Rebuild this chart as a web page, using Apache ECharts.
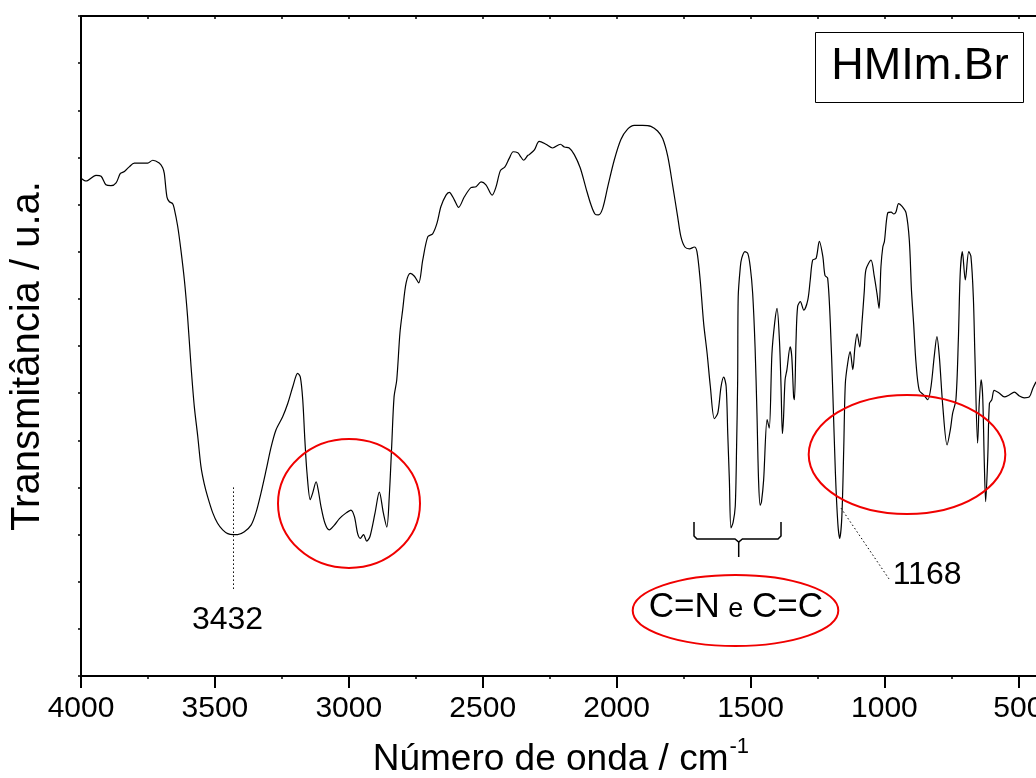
<!DOCTYPE html>
<html>
<head>
<meta charset="utf-8">
<script src="https://cdn.jsdelivr.net/npm/echarts@6/dist/echarts.min.js"></script>
<style>
  html, body { margin: 0; padding: 0; background: #fff; }
  #chart { width: 1036px; height: 778px; }
</style>
</head>
<body>
<div id="chart"></div>
<script>
// FTIR spectrum of HMIm.Br — wavenumber (cm-1) vs transmittance (a.u.)
const wavenumber = [
  4000,3981,3944,3925,3907,3888,3869,3853,3838,3820,
  3801,3776,3751,3732,3708,3695,3689,3679,3670,3658,
  3652,3639,3627,3614,3602,3589,3577,3564,3552,3540,
  3527,3508,3490,3471,3452,3432,3415,3390,3365,3347,
  3328,3309,3290,3272,3247,3228,3209,3191,3181,3172,
  3164,3156,3144,3135,3122,3114,3104,3089,3073,3054,
  3035,3010,2992,2979,2967,2957,2945,2933,2921,2902,
  2886,2871,2858,2849,2840,2831,2821,2809,2799,2786,
  2770,2755,2739,2724,2705,2687,2671,2656,2637,2625,
  2606,2590,2569,2544,2525,2506,2488,2465,2450,2434,
  2417,2401,2386,2369,2361,2347,2332,2326,2307,2289,
  2264,2239,2210,2195,2177,2158,2136,2114,2096,2081,
  2068,2052,2033,2009,1984,1959,1934,1903,1872,1847,
  1828,1809,1790,1772,1760,1745,1728,1710,1700,1688,
  1675,1662,1650,1635,1622,1610,1600,1591,1585,1579,
  1573,1565,1557,1552,1548,1546,1538,1533,1521,1510,
  1501,1492,1483,1476,1470,1464,1459,1451,1438,1430,
  1420,1410,1401,1392,1386,1381,1377,1371,1364,1352,
  1346,1339,1336,1330,1324,1314,1301,1286,1277,1268,
  1255,1243,1230,1222,1212,1202,1193,1183,1174,1167,
  1159,1152,1146,1137,1128,1118,1110,1102,1092,1084,
  1075,1069,1050,1038,1028,1020,1013,1006,1000,988,
  975,965,957,947,934,919,907,899,891,882,
  870,853,838,826,814,804,795,782,766,754,
  745,733,724,717,709,698,685,677,668,662,
  652,646,639,633,627,622,614,608,599,590,
  571,552,534,515,496,478,459,446,434
];
const transmittance = [
  52.8,52.5,53.1,53.0,52.1,52.0,52.3,53.3,53.5,54.0,
  54.4,54.4,54.4,54.7,54.4,53.9,53.3,50.8,50.3,50.1,
  49.6,47.7,45.2,42.0,38.1,32.8,28.6,25.4,22.2,20.4,
  19.0,17.3,16.2,15.5,15.1,15.0,15.0,15.3,16.0,17.3,
  19.4,21.8,24.3,26.1,27.5,28.9,30.7,32.1,31.7,29.3,
  25.0,21.5,18.7,19.4,20.6,19.7,18.0,16.2,15.5,16.0,
  16.7,17.3,17.6,16.9,15.1,14.6,15.0,14.3,14.8,17.3,
  19.5,17.3,15.8,19.0,24.3,29.6,31.4,36.4,38.8,41.7,
  42.7,42.4,41.7,44.1,46.6,46.9,48.0,49.8,51.0,51.3,
  50.5,49.7,50.8,51.8,51.9,52.4,52.1,51.0,51.9,53.6,
  54.0,54.9,55.6,55.5,55.2,54.7,55.2,55.3,55.8,56.7,
  56.4,56.0,56.4,56.1,56.0,55.3,53.9,51.7,50.0,49.0,
  48.9,49.6,51.9,54.7,56.9,58.0,58.4,58.4,58.3,57.8,
  57.0,55.1,51.9,48.7,46.6,45.5,45.3,45.5,45.0,42.0,
  37.4,34.2,30.7,27.3,27.9,30.7,31.7,30.7,25.7,20.8,
  15.7,16.3,18.0,24.3,31.4,40.2,43.4,44.3,45.0,44.8,
  43.4,40.6,34.9,27.9,20.8,18.1,18.5,20.8,27.2,26.3,
  34.2,37.4,39.0,35.6,30.7,25.7,27.2,31.4,32.5,34.9,
  33.9,29.6,29.3,35.6,39.2,39.7,38.8,39.9,42.0,44.1,
  44.3,46.1,44.5,42.5,42.2,37.4,30.3,21.5,16.2,14.6,
  16.9,24.0,31.0,33.2,34.4,32.5,34.9,36.3,34.9,37.4,
  40.9,43.1,44.1,42.4,40.6,39.0,43.4,45.5,46.1,49.1,
  49.2,49.0,49.2,50.1,49.8,49.1,46.2,40.9,37.4,33.2,
  30.3,29.8,29.3,30.7,33.9,36.0,33.9,28.6,24.5,26.1,
  27.9,29.3,35.6,42.7,45.0,42.0,45.0,44.5,40.2,33.9,
  24.7,28.9,31.4,29.6,22.6,18.5,23.3,28.9,29.3,30.3,
  30.0,29.6,29.8,30.1,29.7,29.5,29.6,30.5,31.2
];

// Axis ticks (cm-1)
const majorTicks = [4000, 3500, 3000, 2500, 2000, 1500, 1000, 500];
const minorTicks = [3750, 3250, 2750, 2250, 1750, 1250, 750];
const topTicks = [4000, 3750, 3500, 3250, 3000, 2750, 2500, 2250, 2000, 1750, 1500, 1250, 1000, 750, 500];

// Annotated band positions
const bandOH = 3432;
const bandCN = 1168;

const FONT = 'Arial, "Liberation Sans", sans-serif';

function textWidth(str, size) {
  const ctx = document.createElement('canvas').getContext('2d');
  ctx.font = size + 'px ' + FONT;
  return ctx.measureText(str).width;
}

const chart = echarts.init(document.getElementById('chart'), null, { renderer: 'canvas' });

const points = wavenumber.map((w, i) => [w, transmittance[i]]);

const titleX = 372.7;
const titleMain = 'Número de onda / cm';
const titleW = textWidth(titleMain, 37);

const option = {
  animation: false,
  backgroundColor: '#fff',
  grid: { left: 81, right: 0, top: 16, bottom: 102, containLabel: false, outerBoundsMode: 'none' },
  xAxis: [
    {
      type: 'value', position: 'bottom', min: 434, max: 4000, inverse: true,
      axisLine: { show: true, lineStyle: { color: '#000', width: 2 } },
      axisTick: { show: true, customValues: majorTicks, length: 12, lineStyle: { color: '#000', width: 2 } },
      axisLabel: {
        show: true, customValues: majorTicks, margin: 18, hideOverlap: false,
        showMinLabel: true, showMaxLabel: true,
        fontSize: 30, color: '#000', fontFamily: FONT,
        formatter: v => String(v)
      },
      splitLine: { show: false }
    },
    {
      type: 'value', position: 'bottom', min: 434, max: 4000, inverse: true,
      axisLine: { show: false },
      axisTick: { show: true, customValues: minorTicks, length: 3, lineStyle: { color: '#000', width: 1.5 } },
      axisLabel: { show: false },
      splitLine: { show: false }
    },
    {
      type: 'value', position: 'top', min: 434, max: 4000, inverse: true,
      axisLine: { show: true, lineStyle: { color: '#000', width: 2 } },
      axisTick: { show: true, inside: true, customValues: topTicks, length: 3, lineStyle: { color: '#000', width: 1.5 } },
      axisLabel: { show: false },
      splitLine: { show: false }
    }
  ],
  yAxis: {
    type: 'value', min: 0, max: 70, interval: 5,
    axisLine: { show: true, lineStyle: { color: '#000', width: 2 } },
    axisTick: { show: true, length: 3, lineStyle: { color: '#000', width: 1.5 } },
    axisLabel: { show: false },
    splitLine: { show: false }
  },
  series: [{
    type: 'line',
    xAxisIndex: 0,
    data: points,
    showSymbol: false,
    symbol: 'none',
    smooth: 0.3,
    lineStyle: { color: '#000', width: 1.2 },
    markLine: {
      silent: true,
      symbol: ['none', 'none'],
      label: { show: false },
      lineStyle: { color: '#000', width: 1, type: [1.5, 2.5] },
      data: [
        [{ coord: [bandOH, 20.0] }, { coord: [bandOH, 9.0] }],
        [{ coord: [bandCN - 6, 17.8] }, { coord: [983, 10.3] }]
      ]
    }
  }],
  graphic: [
    // sample name box
    { type: 'rect', shape: { x: 815.5, y: 32.5, width: 208, height: 70 },
      style: { fill: '#fff', stroke: '#000', lineWidth: 1 }, z: 10 },
    { type: 'text', x: 920, y: 67, z: 11,
      style: { text: 'HMIm.Br', font: '45px ' + FONT, fill: '#000', align: 'center', verticalAlign: 'middle' } },

    // highlighted regions
    { type: 'ellipse', shape: { cx: 349, cy: 503.5, rx: 71, ry: 64.5 },
      style: { fill: 'none', stroke: '#f00000', lineWidth: 2 }, z: 10 },
    { type: 'ellipse', shape: { cx: 907, cy: 454.5, rx: 98.3, ry: 59.5 },
      style: { fill: 'none', stroke: '#f00000', lineWidth: 2 }, z: 10 },
    { type: 'ellipse', shape: { cx: 735.5, cy: 610.5, rx: 102.8, ry: 35.5 },
      style: { fill: 'none', stroke: '#f00000', lineWidth: 2 }, z: 10 },

    // brace grouping the C=N / C=C bands
    { type: 'polyline', z: 10,
      shape: { points: [[694, 522], [694, 536], [697, 539], [735, 539], [738.7, 542], [742.4, 539], [778, 539], [781, 536], [781, 522]] },
      style: { fill: 'none', stroke: '#000', lineWidth: 1.5 } },
    { type: 'line', z: 10, shape: { x1: 738.7, y1: 541, x2: 738.7, y2: 557 },
      style: { stroke: '#000', lineWidth: 1.5 } },

    // band labels
    { type: 'text', x: 227.5, y: 620, z: 11,
      style: { text: String(bandOH), font: '32px ' + FONT, fill: '#000', align: 'center', verticalAlign: 'middle' } },
    { type: 'text', x: 892.7, y: 575, z: 11,
      style: { text: String(bandCN), font: '32px ' + FONT, fill: '#000', align: 'left', verticalAlign: 'middle' } },
    { type: 'text', x: 648.7, y: 607.2, z: 11,
      style: { text: 'C=N', font: '35px ' + FONT, fill: '#000', align: 'left', verticalAlign: 'middle' } },
    { type: 'text', x: 728.3, y: 610, z: 11,
      style: { text: 'e', font: '27px ' + FONT, fill: '#000', align: 'left', verticalAlign: 'middle' } },
    { type: 'text', x: 752, y: 607.2, z: 11,
      style: { text: 'C=C', font: '35px ' + FONT, fill: '#000', align: 'left', verticalAlign: 'middle' } },

    // axis titles
    { type: 'text', x: titleX, y: 760, z: 11,
      style: { text: titleMain, font: '37px ' + FONT, fill: '#000', align: 'left', verticalAlign: 'middle' } },
    { type: 'text', x: titleX + titleW + 1, y: 746.5, z: 11,
      style: { text: '-1', font: '22px ' + FONT, fill: '#000', align: 'left', verticalAlign: 'middle' } },
    { type: 'text', x: 28, y: 356, rotation: Math.PI / 2, z: 11,
      style: { text: 'Transmitância / u.a.', font: '40px ' + FONT, fill: '#000', align: 'center', verticalAlign: 'middle' } }
  ]
};

chart.setOption(option);
</script>
</body>
</html>
